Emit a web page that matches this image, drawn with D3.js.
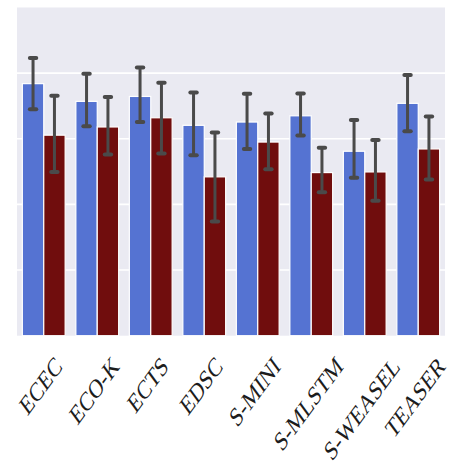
<!DOCTYPE html>
<html>
<head>
<meta charset="utf-8">
<script src="https://cdn.jsdelivr.net/npm/d3@7"></script>
<style>
  html, body { margin: 0; padding: 0; background: #ffffff; }
  svg { display: block; }
</style>
</head>
<body>
<svg id="chart" width="453" height="470"></svg>
<script>
// ---- Data ----
const categories = ["ECEC", "ECO-K", "ECTS", "EDSC", "S-MINI", "S-MLSTM", "S-WEASEL", "TEASER"];
const seriesNames = ["blue", "red"];
const blueValues = [0.768, 0.714, 0.729, 0.641, 0.651, 0.670, 0.562, 0.708];
const blueLow    = [0.690, 0.638, 0.651, 0.550, 0.569, 0.610, 0.481, 0.623];
const blueHigh   = [0.846, 0.798, 0.817, 0.741, 0.737, 0.738, 0.657, 0.794];
const redValues  = [0.611, 0.636, 0.664, 0.484, 0.590, 0.497, 0.499, 0.569];
const redLow     = [0.499, 0.552, 0.555, 0.348, 0.507, 0.437, 0.411, 0.476];
const redHigh    = [0.731, 0.727, 0.771, 0.619, 0.677, 0.573, 0.596, 0.668];
const yTicks = [0, 0.2, 0.4, 0.6, 0.8];

const colors = { blue: "#5573d2", red: "#700d0d" };

const rows = [];
categories.forEach((c, i) => {
  rows.push({ cat: c, s: "blue", v: blueValues[i], lo: blueLow[i], hi: blueHigh[i] });
  rows.push({ cat: c, s: "red", v: redValues[i], lo: redLow[i], hi: redHigh[i] });
});

// ---- Layout ----
const svg = d3.select("#chart");
const plotLeft = 17, plotRight = 445, plotTop = 7.5, plotBottom = 335.7;

const x = d3.scaleBand().domain(categories).range([plotLeft, plotRight]).paddingInner(0).paddingOuter(0);
const x1 = d3.scaleBand().domain(seriesNames).range([x.bandwidth() * 0.1, x.bandwidth() * 0.9]);
const y = d3.scaleLinear().domain([0, 1]).range([plotBottom, plotTop]);

// background
svg.append("rect")
  .attr("x", plotLeft).attr("y", plotTop)
  .attr("width", plotRight - plotLeft).attr("height", plotBottom - plotTop)
  .attr("fill", "#eaeaf2");

// gridlines
svg.append("g").selectAll("line")
  .data(yTicks.filter(d => d > 0))
  .join("line")
  .attr("x1", plotLeft).attr("x2", plotRight)
  .attr("y1", d => y(d)).attr("y2", d => y(d))
  .attr("stroke", "#ffffff").attr("stroke-width", 1.6);

// bars
svg.append("g").selectAll("rect")
  .data(rows)
  .join("rect")
  .attr("x", d => x(d.cat) + x1(d.s))
  .attr("width", x1.bandwidth())
  .attr("y", d => y(d.v))
  .attr("height", d => y(0) - y(d.v))
  .attr("fill", d => colors[d.s])
  .attr("stroke", "#ffffff")
  .attr("stroke-width", 1.2);

// error bars
const eb = svg.append("g").attr("stroke", "#4a4a4a").attr("stroke-linecap", "round");
const cx = d => x(d.cat) + x1(d.s) + x1.bandwidth() / 2;
eb.selectAll("line.v").data(rows).join("line").attr("class", "v")
  .attr("x1", cx).attr("x2", cx)
  .attr("y1", d => y(d.lo)).attr("y2", d => y(d.hi))
  .attr("stroke-width", 3);
["lo", "hi"].forEach(k => {
  eb.selectAll("line.c" + k).data(rows).join("line").attr("class", "c" + k)
    .attr("x1", d => cx(d) - 3.2).attr("x2", d => cx(d) + 3.2)
    .attr("y1", d => y(d[k])).attr("y2", d => y(d[k]))
    .attr("stroke-width", 4);
});

// x labels (rotated 45deg, then stretched vertically; bbox centered on tick, top-aligned)
const sx = 0.88, sy = 1.2;
const fs = 22.5;
const labelTop = 355;
const lg = svg.append("g");
categories.forEach(c => {
  const t = lg.append("text")
    .text(c)
    .attr("font-family", "'Liberation Serif', 'Times New Roman', serif")
    .attr("font-size", fs)
    .attr("fill", "#1c1c1c")
    .attr("text-anchor", "middle")
    .attr("dominant-baseline", "central");
  const L = t.node().getComputedTextLength();
  const h = fs * 0.66;
  const H = sy * (L + h) / Math.SQRT2;
  const px = x(c) + x.bandwidth() / 2 - 3;
  const py = labelTop + H / 2;
  t.attr("transform", `translate(${px},${py}) scale(${sx},${sy}) rotate(-45)`);
});
</script>
</body>
</html>
